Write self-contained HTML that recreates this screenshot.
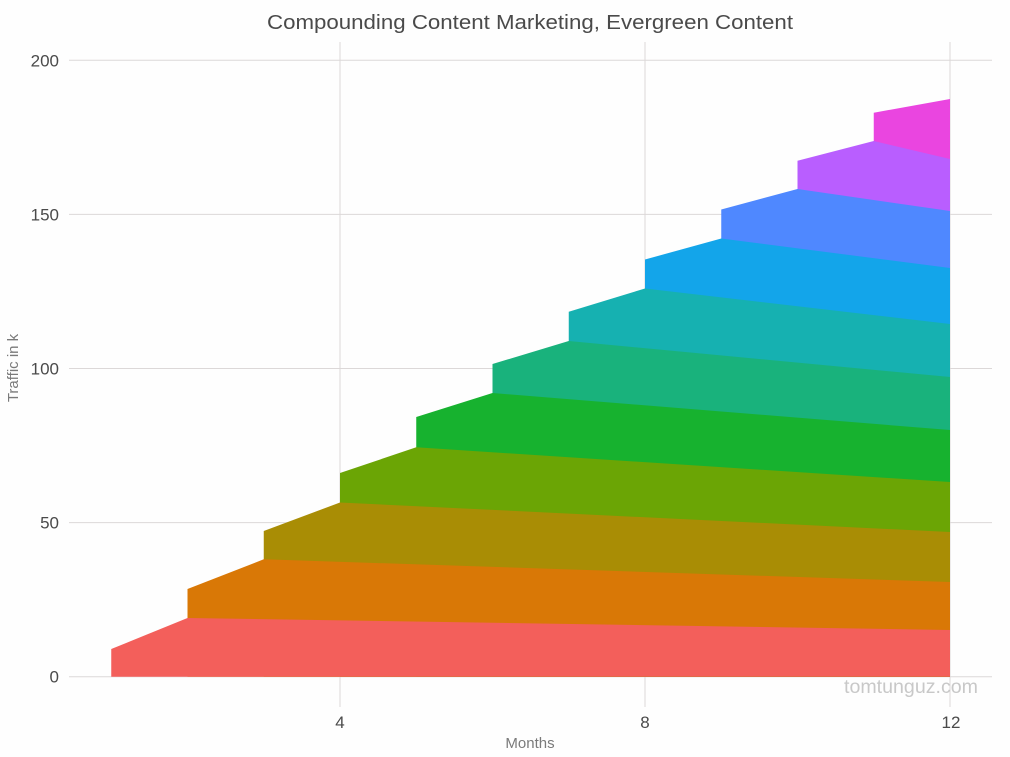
<!DOCTYPE html>
<html>
<head>
<meta charset="utf-8">
<style>
  html,body{margin:0;padding:0;background:#fff;}
  svg{display:block;}
  text{font-family:"Liberation Sans","DejaVu Sans",sans-serif;}
</style>
</head>
<body>
<svg width="1010" height="757" viewBox="0 0 1010 757" xmlns="http://www.w3.org/2000/svg">
  <rect x="0" y="0" width="1010" height="757" fill="#fefefe"/>

  <!-- grid -->
  <g stroke="#dcd8d8" stroke-width="1" fill="none">
    <line x1="69" y1="676.7" x2="992" y2="676.7"/>
    <line x1="69" y1="522.6" x2="992" y2="522.6"/>
    <line x1="69" y1="368.5" x2="992" y2="368.5"/>
    <line x1="69" y1="214.4" x2="992" y2="214.4"/>
    <line x1="69" y1="60.3" x2="992" y2="60.3"/>
    <line x1="340" y1="42" x2="340" y2="707"/>
    <line x1="645" y1="42" x2="645" y2="707"/>
    <line x1="950" y1="42" x2="950" y2="707"/>
  </g>

  <!-- stacked areas (drawn from top cohort down, each to baseline) -->
  <g stroke="none">
    <polygon fill="#EA45E0" points="873.75,112.7 950,99 950,676.7 873.75,676.7"/>
    <polygon fill="#B95EFF" points="797.5,160.7 873.75,141 950,159 950,676.7 797.5,676.7"/>
    <polygon fill="#4F88FF" points="721.25,209.5 797.5,189 950,211 950,676.7 721.25,676.7"/>
    <polygon fill="#13A5EA" points="645,259.5 721.25,238.5 950,268 950,676.7 645,676.7"/>
    <polygon fill="#16B1B1" points="568.75,311.7 645,288.5 950,324 950,676.7 568.75,676.7"/>
    <polygon fill="#19B27C" points="492.5,364 568.75,341 950,377 950,676.7 492.5,676.7"/>
    <polygon fill="#17B22F" points="416.25,417 492.5,393 950,430 950,676.7 416.25,676.7"/>
    <polygon fill="#6BA505" points="340,473 416.25,447.3 950,482 950,676.7 340,676.7"/>
    <polygon fill="#A98D05" points="263.75,531 340,502.5 950,532 950,676.7 263.75,676.7"/>
    <polygon fill="#D97806" points="187.5,589 263.75,559.3 950,582 950,676.7 187.5,676.7"/>
    <polygon fill="#F35F5B" points="111.25,649 187.5,618 950,630 950,676.7 111.25,676.7"/>
  </g>

  <!-- title -->
  <text x="530" y="29" text-anchor="middle" font-size="20" fill="#4a4a4a" textLength="526" lengthAdjust="spacingAndGlyphs">Compounding Content Marketing, Evergreen Content</text>

  <!-- y tick labels -->
  <g font-size="17" fill="#4a4a4a" text-anchor="end">
    <text x="59" y="682.5">0</text>
    <text x="59" y="528.5">50</text>
    <text x="59" y="374.5">100</text>
    <text x="59" y="220.5">150</text>
    <text x="59" y="66.5">200</text>
  </g>

  <!-- x tick labels -->
  <g font-size="17" fill="#4a4a4a" text-anchor="middle">
    <text x="340" y="728">4</text>
    <text x="645" y="728">8</text>
    <text x="951" y="728">12</text>
  </g>

  <!-- axis titles -->
  <text x="530" y="748" text-anchor="middle" font-size="15" fill="#7a7a7a">Months</text>
  <text transform="translate(18,368) rotate(-90)" text-anchor="middle" font-size="15" fill="#7a7a7a">Traffic in k</text>

  <!-- watermark -->
  <text x="844" y="693" font-size="19" fill="#c8c8c8" textLength="134" lengthAdjust="spacingAndGlyphs">tomtunguz.com</text>
</svg>
</body>
</html>
